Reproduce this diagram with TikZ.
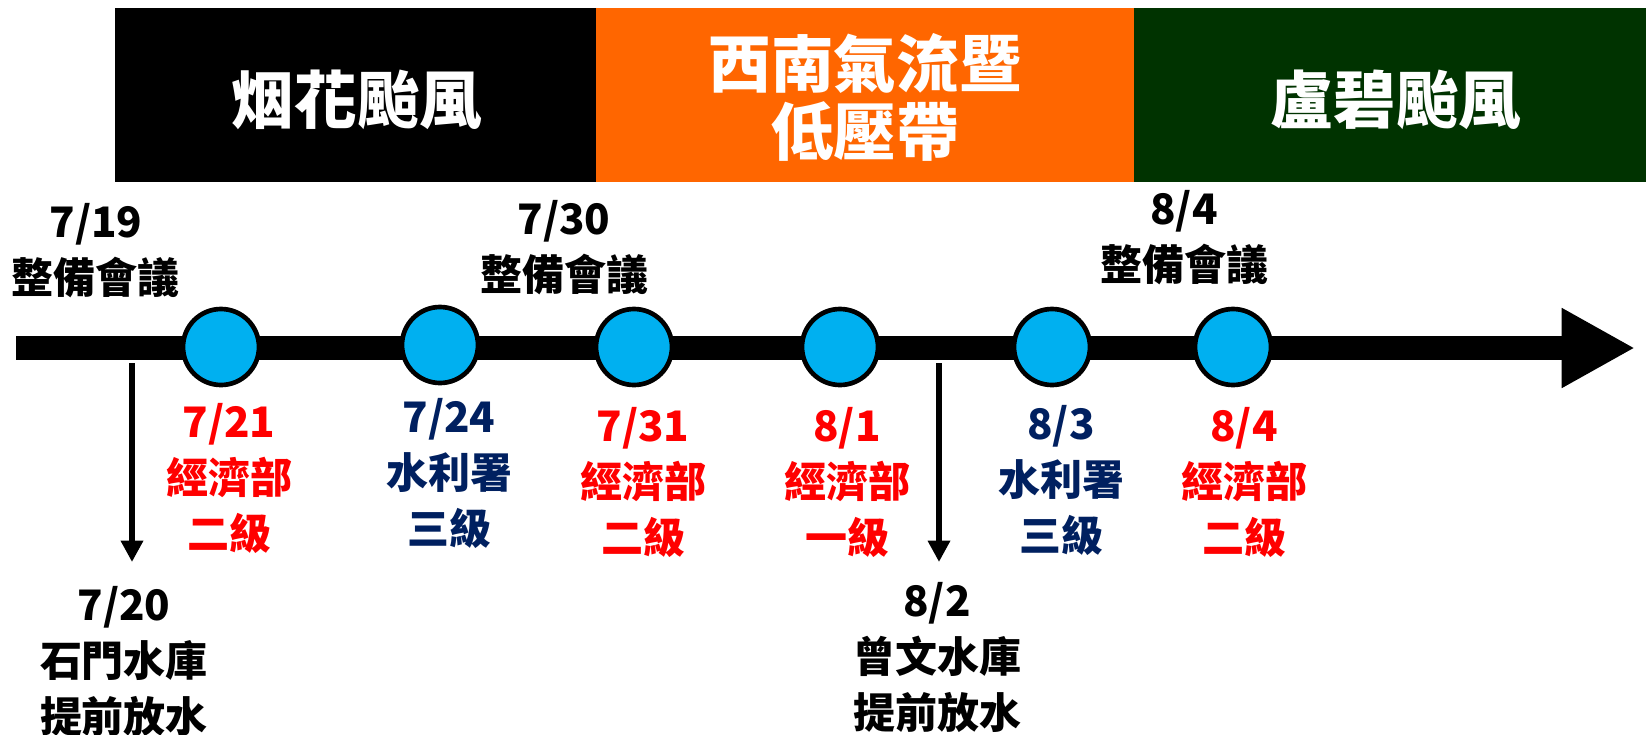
\documentclass[tikz,border=0pt]{standalone}
\usepackage{fontspec}
\newfontfamily\cjk{Noto Sans CJK TC}
\usetikzlibrary{arrows.meta}
\definecolor{evtred}{RGB}{255,0,0}
\definecolor{evtnavy}{RGB}{0,32,96}
\definecolor{dotblue}{RGB}{0,176,240}
\definecolor{bandorange}{RGB}{255,102,0}
\definecolor{bandgreen}{RGB}{0,51,0}
\tikzset{
  bandtext/.style={font=\cjk\bfseries\fontsize{47}{51}\selectfont, text=white, align=center},
  datetext/.style={font=\cjk\bfseries\fontsize{31.5}{42}\selectfont, align=center, inner sep=0pt},
  dot/.style={circle, draw=black, line width=3.5pt, fill=dotblue, minimum size=57pt, inner sep=0pt},
  drop/.style={line width=4.5pt, -{Triangle[length=16pt,width=16pt]}}
}
\begin{document}
\begin{tikzpicture}[x=0.75pt,y=0.75pt,yscale=-1,xscale=1]
\useasboundingbox (0,0) rectangle (1646,735);

%Shape: Rectangle
\fill [black] (115,8) rectangle (596,182) ;
%Shape: Rectangle
\fill [bandorange] (596,8) rectangle (1134,182) ;
%Shape: Rectangle
\fill [bandgreen] (1134,8) rectangle (1646,182) ;

% Text Node
\node [bandtext] (yanhua) at (357,100) {烟花颱風};
% Text Node
\node [bandtext] (swflow) at (865,97) {西南氣流暨\\低壓帶};
% Text Node
\node [bandtext] (lubi) at (1396,100) {盧碧颱風};

%Straight Lines
\coordinate (tstart) at (16,348);
\coordinate (tend) at (1635,348);
\draw [line width=18pt, -{Triangle[length=55pt,width=56pt]}] (tstart) -- (tend) ;

%Straight Lines
\coordinate (t720) at (132,363);
\coordinate (h720) at (132,562);
\draw [drop] (t720) -- (h720) ;
%Straight Lines
\coordinate (t802) at (939,363);
\coordinate (h802) at (939,562);
\draw [drop] (t802) -- (h802) ;

%Shape: Circle
\node [dot] (c721) at (221,347) {};
\node [dot] (c724) at (440,345) {};
\node [dot] (c731) at (634,347) {};
\node [dot] (c801) at (840,347) {};
\node [dot] (c803) at (1052,347) {};
\node [dot] (c804) at (1233,347) {};

% Text Node
\node [datetext] (m719) at (96,251) {7/19\\整備會議};
% Text Node
\node [datetext] (m730) at (564,248) {7/30\\整備會議};
% Text Node
\node [datetext] (m804) at (1184,238) {8/4\\整備會議};

% Text Node
\node [datetext, text=evtred] (l721) at (229,478) {7/21\\經濟部\\二級};
% Text Node
\node [datetext, text=evtnavy] (l724) at (449,473) {7/24\\水利署\\三級};
% Text Node
\node [datetext, text=evtred] (l731) at (643,482) {7/31\\經濟部\\二級};
% Text Node
\node [datetext, text=evtred] (l801) at (847,482) {8/1\\經濟部\\一級};
% Text Node
\node [datetext, text=evtnavy] (l803) at (1061,480) {8/3\\水利署\\三級};
% Text Node
\node [datetext, text=evtred] (l804) at (1244,482) {8/4\\經濟部\\二級};

% Text Node
\node [datetext] (r720) at (124,661) {7/20\\石門水庫\\提前放水};
% Text Node
\node [datetext] (r802) at (937,657) {8/2\\曾文水庫\\提前放水};

\end{tikzpicture}
\end{document}
